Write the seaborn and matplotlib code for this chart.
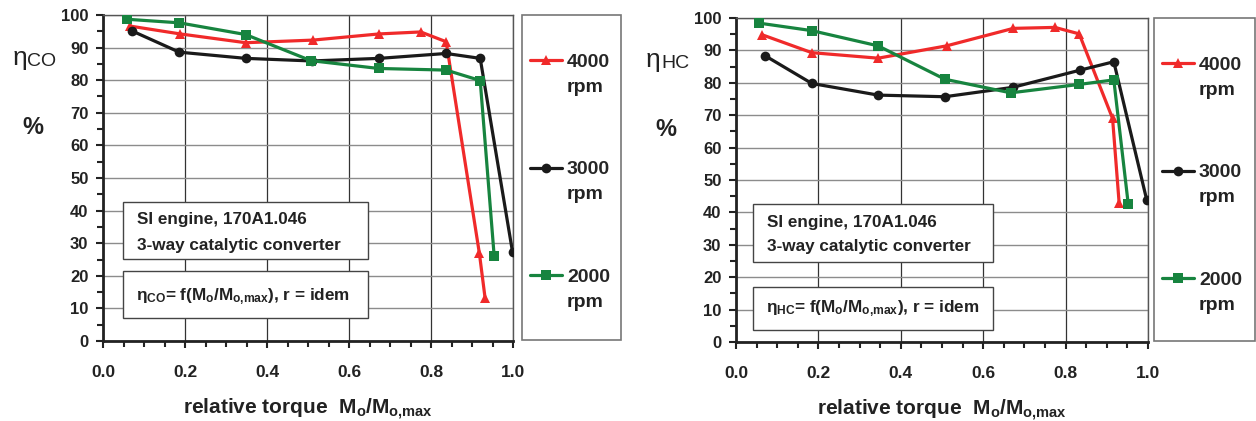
import matplotlib
matplotlib.use('Agg')
import matplotlib.pyplot as plt
from matplotlib.lines import Line2D
from matplotlib.patches import Rectangle
from matplotlib.ticker import MultipleLocator
import seaborn as sns
import pandas as pd

# %% data
speeds = ['4000', '3000', '2000']

co_x_4000 = [0.066, 0.188, 0.348, 0.512, 0.674, 0.775, 0.837, 0.918, 0.932]
co_y_4000 = [96.6, 94.2, 91.5, 92.3, 94.2, 94.8, 91.8, 26.9, 13.1]
co_x_3000 = [0.071, 0.186, 0.348, 0.509, 0.674, 0.837, 0.920, 0.999]
co_y_3000 = [95.1, 88.6, 86.7, 85.9, 86.7, 88.2, 86.7, 27.2]
co_x_2000 = [0.058, 0.186, 0.348, 0.507, 0.672, 0.837, 0.920, 0.954]
co_y_2000 = [98.7, 97.6, 94.0, 86.0, 83.6, 83.1, 79.9, 26.2]

hc_x_4000 = [0.064, 0.184, 0.345, 0.511, 0.673, 0.774, 0.833, 0.914, 0.930]
hc_y_4000 = [94.8, 89.3, 87.6, 91.4, 96.8, 97.1, 95.1, 69.0, 42.8]
hc_x_3000 = [0.070, 0.184, 0.345, 0.507, 0.672, 0.835, 0.917, 0.997]
hc_y_3000 = [88.4, 79.8, 76.2, 75.7, 78.6, 83.9, 86.5, 43.8]
hc_x_2000 = [0.057, 0.184, 0.345, 0.507, 0.667, 0.833, 0.917, 0.952]
hc_y_2000 = [98.4, 96.1, 91.4, 81.1, 76.9, 79.5, 80.9, 42.6]

colors = {'4000': '#f02a2a', '3000': '#1a1a1a', '2000': '#17843f'}
markers = {'4000': '^', '3000': 'o', '2000': 's'}


def long_df(xs, ys):
    parts = []
    for s, x, y in zip(speeds, xs, ys):
        parts.append(pd.DataFrame({'torque': x, 'eta': y, 'rpm': s}))
    return pd.concat(parts, ignore_index=True)


co_df = long_df([co_x_4000, co_x_3000, co_x_2000], [co_y_4000, co_y_3000, co_y_2000])
hc_df = long_df([hc_x_4000, hc_x_3000, hc_x_2000], [hc_y_4000, hc_y_3000, hc_y_2000])

# %% style
sns.set_style('white')
plt.rcParams['font.family'] = ['Liberation Sans', 'DejaVu Sans']
plt.rcParams['mathtext.fontset'] = 'custom'
plt.rcParams['mathtext.rm'] = 'Liberation Sans:bold'
plt.rcParams['mathtext.bf'] = 'Liberation Sans:bold'
plt.rcParams['mathtext.default'] = 'rm'

W, H = 1256, 421
fig = plt.figure(figsize=(W / 100, H / 100), dpi=100)


def fx(px):
    return px / W


def fy(py):
    return 1 - py / H


def panel(rect, df, gas, box1, box2, box_text_xy, legend_rect, eta_xy):
    ax = fig.add_axes(rect)
    sns.lineplot(data=df, x='torque', y='eta', hue='rpm', style='rpm',
                 palette=colors, markers=markers, dashes=False, sort=False,
                 linewidth=2.3, markersize=7, markeredgewidth=0,
                 legend=False, ax=ax, zorder=3)
    ax.set_xlim(0, 1)
    ax.set_ylim(0, 100)
    ax.xaxis.set_major_locator(MultipleLocator(0.2))
    ax.xaxis.set_minor_locator(MultipleLocator(0.05))
    ax.yaxis.set_major_locator(MultipleLocator(10))
    ax.yaxis.set_minor_locator(MultipleLocator(5))
    ax.set_xticklabels([f'{v:.1f}' for v in ax.get_xticks()])
    ax.grid(axis='y', which='major', color='#8c8c8c', linewidth=1.0)
    ax.grid(axis='x', which='major', color='#333333', linewidth=0.9)
    ax.tick_params(which='both', direction='out', color='#222222', width=1.5)
    ax.tick_params(which='major', length=5)
    ax.tick_params(which='minor', length=4)
    ax.tick_params(axis='x', which='both', bottom=True, pad=12, labelsize=12.5)
    ax.tick_params(axis='y', which='both', left=True, pad=5.5, labelsize=12)
    for lab in ax.get_xticklabels() + ax.get_yticklabels():
        lab.set_fontweight('bold')
        lab.set_color('#222222')
    for side in ['left', 'bottom']:
        ax.spines[side].set_color('#222222')
        ax.spines[side].set_linewidth(2)
    for side in ['top', 'right']:
        ax.spines[side].set_color('#555555')
        ax.spines[side].set_linewidth(1)
    ax.set_xlabel(r'relative torque  M$_\mathrm{o}$/M$_\mathrm{o{,}max}$',
                  fontsize=15, fontweight='bold', labelpad=12.5, color='#222222')
    ax.set_ylabel('')

    # text boxes
    for (x0, y0, x1, y1) in (box1, box2):
        fig.patches.append(Rectangle((fx(x0), fy(y1)), fx(x1) - fx(x0), fy(y0) - fy(y1),
                                     transform=fig.transFigure, facecolor='white',
                                     edgecolor='#444444', linewidth=1, zorder=2))
    tx, ty1, ty2, ty3 = box_text_xy
    fig.text(fx(tx), fy(ty1), 'SI engine, 170A1.046', fontsize=12.3,
             fontweight='bold', va='center', color='#222222', zorder=4)
    fig.text(fx(tx), fy(ty2), '3-way catalytic converter', fontsize=12.3,
             fontweight='bold', va='center', color='#222222', zorder=4)
    fig.text(fx(tx - 1), fy(ty3),
             'η$_\\mathrm{' + gas + '}$= f(M$_\\mathrm{o}$/M$_\\mathrm{o{,}max}$), r = idem',
             fontsize=12.3, fontweight='bold', va='center', color='#222222', zorder=4)

    # legend panel
    lx0, ly0, lx1, ly1 = legend_rect
    fig.patches.append(Rectangle((fx(lx0), fy(ly1)), fx(lx1) - fx(lx0), fy(ly0) - fy(ly1),
                                 transform=fig.transFigure, facecolor='white',
                                 edgecolor='#777777', linewidth=1.2, zorder=1))
    handles = [Line2D([], [], color=colors[s], marker=markers[s], linewidth=2.3,
                      markersize=7, markeredgewidth=0) for s in speeds]
    leg = fig.legend(handles, speeds, loc='upper left',
                     bbox_to_anchor=(fx(lx0 + 8), fy(ly0 + 38)), frameon=False,
                     prop={'family': 'Liberation Sans', 'weight': 'bold', 'size': 14},
                     handlelength=1.65, handletextpad=0.25, labelspacing=4.64,
                     borderpad=0, borderaxespad=0)

    # eta label and percent sign
    ex, ey = eta_xy
    fig.text(fx(ex), fy(ey), 'η', fontsize=19, ha='center', va='center', color='#222222')
    fig.text(fx(ex + 22), fy(ey + 3), gas, fontsize=14, ha='center', va='center',
             color='#222222')
    fig.text(fx(ex + 13), fy(ey + 70), '%', fontsize=17, fontweight='bold',
             ha='center', va='center', color='#222222')
    return ax, leg


ax1, leg1 = panel([fx(103), fy(341), fx(513) - fx(103), fy(15) - fy(341)], co_df, 'CO',
                  (123, 202, 368, 259), (123, 271, 368, 318), (137, 220, 245, 297),
                  (522, 15, 621, 340), (20, 58))
ax2, leg2 = panel([fx(736), fy(342), fx(1148) - fx(736), fy(18) - fy(342)], hc_df, 'HC',
                  (753, 204, 993, 262), (753, 287, 993, 330), (767, 223, 247, 309),
                  (1154, 18, 1255, 341), (653, 60))

# "rpm" under each legend label
fig.canvas.draw()
renderer = fig.canvas.get_renderer()
for leg in (leg1, leg2):
    for t in leg.get_texts():
        bb = t.get_window_extent(renderer)
        fig.text(bb.x0 / W, (bb.y0 - 8) / H, 'rpm', fontsize=14, fontweight='bold',
                 ha='left', va='top', color='#222222')

fig.savefig('out.png', dpi=100)
